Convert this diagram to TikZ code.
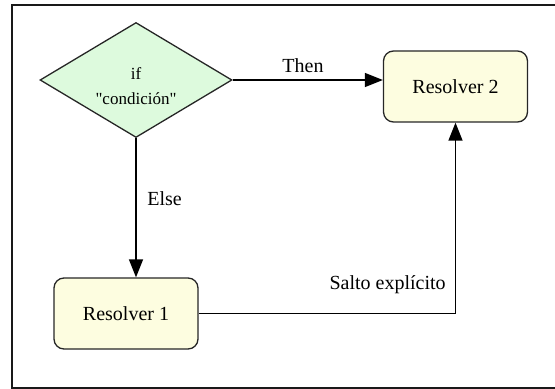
\documentclass[tikz,border=0pt]{standalone}
\usepackage{fontspec}
\setmainfont{Liberation Serif}[Ligatures=TeXOff]
\usetikzlibrary{shapes.geometric,arrows.meta}
\definecolor{condgreen}{RGB}{221,250,221}
\definecolor{resyellow}{RGB}{253,253,224}
\newcommand{\condcol}{condgreen}
\newcommand{\rescol}{resyellow}

\begin{document}
\begin{tikzpicture}[x=0.5pt, y=-0.5pt,
    resbox/.style={draw=black!85, fill=\rescol, line width=0.65pt, rounded corners=5pt,
        minimum width=72pt, minimum height=35.5pt, inner sep=0pt, font=\fontsize{10}{12}\selectfont},
    condbox/.style={draw=black!85, fill=\condcol, line width=0.65pt, diamond, shape aspect=1.67,
        minimum width=96pt, minimum height=57.5pt, inner sep=0pt},
    condtext/.style={yshift=-3pt, inner sep=0pt, align=center, font=\fontsize{8.5}{12.5}\selectfont},
    flecha/.style={draw=black, line width=0.65pt, -{Triangle[length=9pt, width=7pt]}},
    etiqueta/.style={inner sep=0pt, font=\fontsize{10}{12}\selectfont}]

        \useasboundingbox (0, 0) rectangle (555, 389);

        % marco
        \draw[line width=1pt, draw=black!90] (570, 5) -- (12, 5) -- (12, 388) -- (570, 388);

        % condición
        \node[condbox, label={[condtext]center:if\\"condición"}] (cond) at (136, 80) {};

        % resolvers
        \node[resbox] (res2) at (455.5, 86.5) {Resolver 2};
        \node[resbox] (res1) at (126, 313.5) {Resolver 1};

        % flechas
        \draw[flecha] (cond.east) -- (cond.east -| res2.west);
        \draw[flecha] (cond.south) -- (cond.south |- res1.north);
        \draw[flecha] (res1.east) -| (res2.south);

        % etiquetas
        \node[etiqueta] (lthen) at (303, 66) {Then};
        \node[etiqueta] (lelse) at (164.5, 199) {Else};
        \node[etiqueta, anchor=east] (lsalto) at (446, 285) {Salto explícito};

\end{tikzpicture}
\end{document}
